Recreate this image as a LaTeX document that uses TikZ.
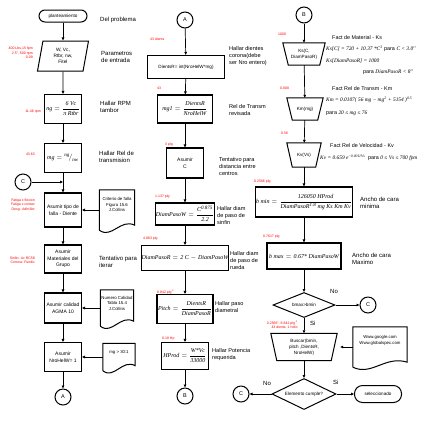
\documentclass[tikz,border=0pt]{standalone}
\usepackage{amsmath}
\usepackage{fontspec}
\setmainfont{Liberation Sans}
\newfontfamily\fml{Liberation Serif}
\newcommand\fv[1]{\text{\fml\itshape #1}}
\usetikzlibrary{shapes.geometric,arrows.meta,calc}
\tikzset{
  box/.style={draw, line width=1.1pt, inner sep=0.5pt, align=center, font=\fontsize{5}{6.5}\selectfont},
  fbox/.style={box, font=\fontsize{6}{7}\selectfont},
  term/.style={draw, line width=1pt, rounded corners=6pt, inner sep=0.5pt, align=center, font=\fontsize{4.6}{5.5}\selectfont},
  para/.style={draw, line width=1pt, trapezium, trapezium left angle=72, trapezium right angle=108, trapezium stretches body, inner sep=0.5pt, align=center, font=\fontsize{4.8}{6.2}\selectfont},
  manual/.style={inner sep=0.5pt, align=center, font=\fontsize{4.6}{6}\selectfont},
  manl/.style={line width=1pt},
  decide/.style={draw, line width=1pt, diamond, inner sep=0pt, aspect=2.5, align=center, font=\fontsize{4.6}{5.5}\selectfont},
  circ/.style={draw, circle, line width=1pt, minimum size=16pt, inner sep=0pt, font=\fontsize{5.5}{6}\selectfont},
  docbox/.style={inner sep=0.5pt, align=center, font=\fontsize{4.3}{5.6}\selectfont},
  docl/.style={line width=1pt},
  lbl/.style={anchor=west, align=left, inner sep=0pt, font=\fontsize{6}{7.4}\selectfont},
  rtxt/.style={anchor=west, align=left, inner sep=0pt, font=\fontsize{5.4}{6}\selectfont},
  redl/.style={text=red, inner sep=0pt, align=right, font=\fontsize{3.5}{4.3}\selectfont},
  con/.style={line width=0.7pt, -{Triangle[length=3pt,width=2.6pt]}},
}
\newcommand\docshape[1]{\draw[docl] (#1.south west) -- (#1.north west) -- (#1.north east) -- ($(#1.south east)+(0,-5)$) .. controls ($(#1.south east)!0.4!(#1.south west)+(0,-12)$) and ($(#1.south west)!0.35!(#1.south east)+(0,9)$) .. (#1.south west);}
\newcommand\manshape[2]{\draw[manl] (#1.north west) -- (#1.north east) -- ($(#1.south east)+(-#2,0)$) -- ($(#1.south west)+(#2,0)$) -- cycle;}
\begin{document}
\begin{tikzpicture}[x=1pt,y=-1pt]
\useasboundingbox (0,0) rectangle (427,421);
% ---------- left column ----------
\node[term, minimum width=48pt, minimum height=12pt] (start) at (63,16) {planteamiento};
\node[para, minimum width=51pt, minimum height=30pt] (inp) at (63,56) {W, Vc,\\Rtbr, nw,\\Fitel};
\node[fbox, minimum width=37pt, minimum height=29pt] (b1) at (63,109) {$\fv{ng}=\dfrac{\fv{6 Vc}}{\fv{π Rtbr}}$};
\node[fbox, minimum width=37pt, minimum height=29pt] (b2) at (63,158) {$\fv{mg}={}^{\fv{ng}}\!\big/_{\fv{nw}}$};
\node[box, minimum width=37pt, minimum height=34pt] (b3) at (63,210) {Asumir tipo de\\falla - Diente};
\node[box, minimum width=37pt, minimum height=28pt] (b4) at (63,259) {Asumir\\Materiales del\\Grupo};
\node[box, minimum width=37pt, minimum height=30pt] (b5) at (63,308) {Asumir calidad\\AGMA 10};
\node[box, minimum width=37pt, minimum height=29pt] (b6) at (63,357) {Asumir\\NroHelW= 1};
\node[circ] (A1) at (63,397) {A};
\node[circ] (C1) at (23,182) {C};
\node[docbox, minimum width=35pt, minimum height=40pt] (doc1) at (117,210) {Criterio de falla\\Figura 15.6\\J.Collins\\[5pt]};
\docshape{doc1}
\node[docbox, minimum width=33pt, minimum height=36pt] (doc2) at (117,308) {Numero Calidad\\Tabla 15.4\\J.Collins\\[4pt]};
\docshape{doc2}
\node[docbox, minimum width=32pt, minimum height=27pt] (doc3) at (119,357) {mg > 30:1\\[5pt]};
\docshape{doc3}

\node[lbl] (l1) at (100,20) {Del problema};
\node[lbl] (l2) at (101,57) {Parametros\\de entrada};
\node[lbl] (l3) at (100,107) {Hallar RPM\\tambor};
\node[lbl] (l4) at (99,157) {Hallar Rel de\\transmision};
\node[lbl] (l5) at (99,262) {Tentativo para\\iterar};

\node[redl, anchor=east] (r01) at (33,53) {400 Lbs,15 fpm\\2.5'', 500 rpm\\0.09};
\node[redl, anchor=east] (r02) at (41,112) {11.46 rpm};
\node[redl, anchor=east] (r03) at (35,154) {43.63};
\node[redl, anchor=east] (r04) at (35,205) {Fatiga x flexion\\Fatiga x contac\\Desg. Adh/Abr};
\node[redl, anchor=east] (r05) at (35,260) {Sinfin: Ac RC58\\Corona: Fundic};

\draw[con] (start) -- (inp);
\draw[con] (inp) -- (b1);
\draw[con] (b1) -- (b2);
\draw[con] (b2) -- (b3);
\draw[con] (b3) -- (b4);
\draw[con] (b4) -- (b5);
\draw[con] (b5) -- (b6);
\draw[con] (b6) -- (A1);
\draw[con] (C1) -- (C1 -| b3.north);
\draw[con] (doc1.west) -- (b3.east);
\draw[con] (doc2.west) -- (b5.east);
\draw[con] (doc3.west) -- (b6.east);

% ---------- middle column ----------
\node[circ] (A2) at (185,20) {A};
\node[box, minimum width=77pt, minimum height=23pt, font=\fontsize{4.6}{5.5}\selectfont] (m1) at (186,67) {DientsR= int(NroHelW*mg)};
\node[fbox, minimum width=55pt, minimum height=28pt] (m2) at (185,109) {$\fv{mg1}=\dfrac{\fv{DientsR}}{\fv{NroHelW}}$};
\node[box, minimum width=37pt, minimum height=30pt] (m3) at (185,163) {Asumir\\C};
\node[fbox, minimum width=58pt, minimum height=22pt] (m4) at (185,214) {$\fv{DiamPasoW}=\dfrac{\fv{C}^{\fv{0.875}}}{\fv{2.2}}$};
\node[fbox, minimum width=84pt, minimum height=25pt] (m5) at (185,258) {$\fv{DiamPasoR}=\fv{2 C}-\fv{DiamPasoW}$};
\node[fbox, minimum width=56pt, minimum height=29pt] (m6) at (185,309) {$\fv{Pitch}=\dfrac{\fv{DientsR}}{\fv{DiamPasoR}}$};
\node[fbox, minimum width=47pt, minimum height=27pt] (m7) at (185,356) {$\fv{HProd}=\dfrac{\fv{W*Vc}}{\fv{33000}}$};
\node[circ] (B1) at (185,396) {B};

\node[lbl, font=\fontsize{5.6}{7}\selectfont] (l6) at (229,56) {Hallar dientes\\corona(debe\\ser Nro entero)};
\node[lbl, font=\fontsize{5.6}{7}\selectfont] (l7) at (229,110) {Rel de Transm\\revisada};
\node[lbl, font=\fontsize{5.6}{7}\selectfont] (l8) at (219,166) {Tentativo para\\distancia entre\\centros};
\node[lbl, font=\fontsize{5.6}{7}\selectfont] (l9) at (217,215) {Hallar diam\\de paso de\\sinfin};
\node[lbl, font=\fontsize{5.6}{7}\selectfont] (l10) at (230,260) {Hallar diam\\de paso de\\rueda};
\node[lbl, font=\fontsize{5.6}{7}\selectfont] (l11) at (215,307) {Hallar paso\\diametral};
\node[lbl, font=\fontsize{5.6}{7}\selectfont] (l12) at (212,355) {Hallar Potencia\\requerida};

\node[redl, anchor=west] (r06) at (150,39) {43 dients};
\node[redl, anchor=west] (r07) at (157,88) {43};
\node[redl, anchor=west] (r08) at (165,145) {3 plg};
\node[redl, anchor=west] (r09) at (155,197) {1.137 plg};
\node[redl, anchor=west] (r10) at (143,239) {4.863 plg};
\node[redl, anchor=west] (r11) at (157,292) {8.842 plg\textsuperscript{-1}};
\node[redl, anchor=west] (r12) at (162,339) {0.18 Hp};

\draw[con] (A2) -- (m1);
\draw[con] (m1) -- (m2);
\draw[con] (m2) -- (m3);
\draw[con] (m3) -- (m4);
\draw[con] (m4) -- (m5);
\draw[con] (m5) -- (m6);
\draw[con] (m6) -- (m7);
\draw[con] (m7) -- (B1);

% ---------- right column ----------
\node[circ] (B2) at (304,15) {B};
\node[manual, minimum width=42pt, minimum height=22pt] (k1) at (304,54) {Ks(C,\\DiamPasoR)};
\manshape{k1}{5.5}
\node[manual, minimum width=36pt, minimum height=22pt] (k2) at (305,109) {Km(mg)};
\manshape{k2}{5.5}
\node[manual, minimum width=34pt, minimum height=24pt] (k3) at (304,155) {Kv(Vs)};
\manshape{k3}{5.5}
\node[fbox, minimum width=97pt, minimum height=30pt] (bmin) at (304,202) {$\fv{b min}=\dfrac{\fv{126050 HProd}}{\fv{DiamPasoR}^{\fv{1.8}}\,\fv{mg Ks Km Kv}}$};
\node[fbox, minimum width=74pt, minimum height=26pt] (bmax) at (304,256) {$\fv{b max}=\fv{0.67* DiamPasoW}$};
\node[decide, minimum width=62pt, minimum height=25pt] (d1) at (304,305) {bmax>bmin};
\node[circ] (C2) at (368,305) {C};
\node[manual, minimum width=66pt, minimum height=27pt] (k4) at (304,347) {Buscar(bmin,\\pitch ,DientsR,\\NroHelW)};
\manshape{k4}{6}
\node[docbox, minimum width=54pt, minimum height=40pt] (doc4) at (380,347) {Www.google.com\\Www.globalspec.com\\[8pt]};
\docshape{doc4}
\node[decide, minimum width=64pt, minimum height=31pt] (d2) at (304,394) {Elemento cumple?};
\node[circ] (C3) at (241,394) {C};
\node[term, minimum width=47pt, minimum height=17pt, rounded corners=8pt] (fin) at (378,394) {seleccionado};

\node[rtxt] (t1) at (332,38) {Fact de Material - Ks};
\node[rtxt] (t2) at (326,49) {{\fml\itshape Ks[C] = 720 + 10.37 *C\textsuperscript{3}} para {\fml\itshape C < 3.0''}};
\node[rtxt] (t3) at (326,61) {{\fml\itshape Ks[DiamPasoR] = 1000}};
\node[rtxt, anchor=east] (t4) at (413,72) {para {\fml\itshape DiamPasoR < 8''}};
\node[rtxt] (t5) at (332,89) {Fact Rel de Transm - Km};
\node[rtxt] (t6) at (326,100) {{\fml\itshape Km = 0.0107( 56 mg − mg\textsuperscript{2} + 5154 )\textsuperscript{0.5}}};
\node[rtxt] (t7) at (326,113) {para {\fml\itshape 20 ≤ mg ≤ 76}};
\node[rtxt] (t8) at (330,146) {Fact Rel de Velocidad - Kv};
\node[rtxt] (t9) at (320,158) {{\fml\itshape Kv = 0.659 e\textsuperscript{−0.0011Vs}}\enspace para {\fml\itshape 0 ≤ Vs ≤ 700 fpm}};

\node[lbl] (l13) at (360,203) {Ancho de cara\\minima};
\node[lbl] (l14) at (352,259) {Ancho de cara\\Maximo};
\node[lbl] (no1) at (330,291) {No};
\node[lbl] (si1) at (310,323) {Si};
\node[lbl] (si2) at (333,382) {Si};
\node[lbl] (no2) at (263,383) {No};

\node[redl, anchor=west] (r13) at (278,34) {1000};
\node[redl, anchor=west] (r14) at (280,88) {0.808};
\node[redl, anchor=west] (r15) at (281,133) {0.56};
\node[redl, anchor=west] (r16) at (254,182) {0.2566 plg};
\node[redl, anchor=west] (r17) at (263,237) {0.7617 plg};
\node[redl, anchor=east] (r18) at (298,325) {0.2566'', 8.842 plg\textsuperscript{-1}\\43 dients, 1 helic};

\draw[con] (B2) -- (k1);
\draw[con] (k1) -- (k2);
\draw[con] (k2) -- (k3);
\draw[con] (k3) -- (bmin);
\draw[con] (bmin) -- (bmax);
\draw[con] (bmax) -- (d1);
\draw[con] (d1) -- (C2);
\draw[con] (d1) -- (k4);
\draw[con, shorten >=3pt] (doc4.west) -- (k4.east);
\draw[con] (k4) -- (d2);
\draw[con] (d2) -- (fin);
\draw[con] (d2) -- (C3);
\end{tikzpicture}
\end{document}
